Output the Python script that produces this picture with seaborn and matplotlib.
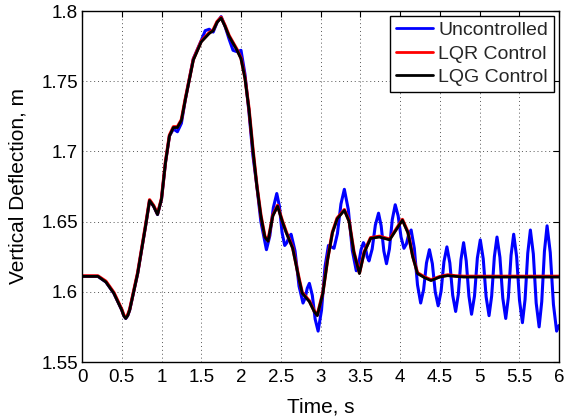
import matplotlib
matplotlib.use("Agg")
import matplotlib.pyplot as plt
import seaborn as sns
import pandas as pd

# ---------------- data ----------------
unc_t = [0.0, 0.2, 0.3, 0.4, 0.5, 0.525, 0.55, 0.575, 0.6, 0.7, 0.8, 0.85, 0.9, 0.95, 1.0,
         1.05, 1.1, 1.15, 1.2, 1.25, 1.3, 1.4, 1.5, 1.55, 1.6, 1.65, 1.7, 1.75, 1.8, 1.85,
         1.9, 1.95, 2.0, 2.05, 2.1, 2.15, 2.2, 2.25, 2.32, 2.363, 2.407, 2.45, 2.483, 2.517,
         2.55, 2.577, 2.603, 2.63, 2.68, 2.73, 2.78, 2.807, 2.833, 2.86, 2.897, 2.933, 2.97,
         3.013, 3.057, 3.10, 3.135, 3.17, 3.213, 3.257, 3.30, 3.35, 3.40, 3.45, 3.48, 3.51,
         3.54, 3.563, 3.587, 3.61, 3.65, 3.69, 3.73, 3.763, 3.797, 3.83, 3.867, 3.903, 3.94,
         3.977, 4.013, 4.05, 4.08, 4.11, 4.14, 4.18, 4.22, 4.26, 4.297, 4.333, 4.37, 4.407,
         4.443, 4.48, 4.517, 4.553, 4.59, 4.627, 4.663, 4.70, 4.733, 4.767, 4.80, 4.833,
         4.867, 4.90, 4.937, 4.973, 5.01, 5.047, 5.083, 5.12, 5.153, 5.187, 5.22, 5.257,
         5.293, 5.33, 5.363, 5.397, 5.43, 5.467, 5.503, 5.54, 5.573, 5.607, 5.64, 5.677,
         5.713, 5.75, 5.783, 5.817, 5.85, 5.89, 5.93, 5.97, 6.0]
unc_v = [1.611, 1.611, 1.607, 1.599, 1.587, 1.583, 1.581, 1.583, 1.587, 1.613, 1.647, 1.665,
         1.661, 1.655, 1.666, 1.692, 1.711, 1.716, 1.714, 1.720, 1.737, 1.766, 1.779, 1.786,
         1.787, 1.785, 1.792, 1.796, 1.789, 1.780, 1.772, 1.771, 1.772, 1.755, 1.728, 1.697,
         1.675, 1.650, 1.630, 1.640, 1.660, 1.670, 1.661, 1.642, 1.633, 1.635, 1.639, 1.641,
         1.629, 1.604, 1.592, 1.5955, 1.6025, 1.606, 1.5975, 1.5805, 1.572, 1.587, 1.618,
         1.633, 1.632, 1.631, 1.6415, 1.6625, 1.673, 1.6585, 1.6295, 1.615, 1.620, 1.630,
         1.635, 1.632, 1.625, 1.622, 1.6305, 1.6475, 1.656, 1.647, 1.629, 1.620, 1.6305,
         1.6515, 1.662, 1.654, 1.639, 1.631, 1.634, 1.641, 1.644, 1.631, 1.605, 1.592,
         1.6015, 1.6205, 1.630, 1.620, 1.600, 1.590, 1.6005, 1.6215, 1.632, 1.6205, 1.5975,
         1.586, 1.598, 1.623, 1.635, 1.622, 1.597, 1.584, 1.597, 1.624, 1.637, 1.6235,
         1.5965, 1.583, 1.597, 1.625, 1.639, 1.6245, 1.5955, 1.581, 1.596, 1.626, 1.641,
         1.625, 1.594, 1.578, 1.5945, 1.6275, 1.644, 1.627, 1.592, 1.575, 1.593, 1.629,
         1.647, 1.628, 1.591, 1.572, 1.576]

ctl_t = [0.0, 0.2, 0.3, 0.4, 0.5, 0.525, 0.55, 0.575, 0.6, 0.7, 0.8, 0.85, 0.9, 0.95, 1.0,
         1.05, 1.1, 1.15, 1.2, 1.25, 1.3, 1.4, 1.5, 1.6, 1.65, 1.7, 1.75, 1.8, 1.85, 1.9,
         1.95, 2.0, 2.05, 2.1, 2.15, 2.2, 2.25, 2.3, 2.34, 2.4, 2.46, 2.52, 2.57, 2.65, 2.73,
         2.77, 2.86, 2.92, 2.96, 3.03, 3.09, 3.15, 3.21, 3.30, 3.36, 3.42, 3.49, 3.55, 3.63,
         3.74, 3.87, 3.95, 4.03, 4.1, 4.16, 4.22, 4.31, 4.39, 4.5, 4.6, 4.7, 4.8, 5.0, 6.0]
lqr_v = [1.6113, 1.6113, 1.6075, 1.5995, 1.5875, 1.5835, 1.5815, 1.5835, 1.5875, 1.6135,
         1.6475, 1.6655, 1.6615, 1.6555, 1.6665, 1.6925, 1.7115, 1.7175, 1.7175, 1.7225,
         1.7375, 1.7655, 1.7785, 1.7845, 1.7865, 1.7925, 1.7955, 1.7895, 1.7825, 1.7775,
         1.7725, 1.7665, 1.7525, 1.7305, 1.7015, 1.6755, 1.6545, 1.6395, 1.6365, 1.6545,
         1.6615, 1.6505, 1.6425, 1.6315, 1.6095, 1.5995, 1.5935, 1.5865, 1.5835, 1.5995,
         1.6235, 1.6425, 1.6525, 1.6585, 1.6505, 1.6285, 1.6135, 1.6285, 1.6385, 1.6395,
         1.6375, 1.6445, 1.6515, 1.6425, 1.6255, 1.6135, 1.6105, 1.6085, 1.6108, 1.612,
         1.6113, 1.6110, 1.6110, 1.6110]
lqg_v = [1.611, 1.611, 1.607, 1.599, 1.587, 1.583, 1.581, 1.583, 1.587, 1.613, 1.647, 1.665,
         1.661, 1.655, 1.666, 1.692, 1.711, 1.717, 1.717, 1.722, 1.737, 1.765, 1.778, 1.784,
         1.786, 1.792, 1.795, 1.789, 1.782, 1.777, 1.772, 1.766, 1.752, 1.730, 1.701, 1.675,
         1.654, 1.639, 1.636, 1.654, 1.661, 1.650, 1.642, 1.631, 1.609, 1.599, 1.593, 1.586,
         1.583, 1.599, 1.623, 1.642, 1.652, 1.658, 1.650, 1.628, 1.613, 1.628, 1.638, 1.639,
         1.637, 1.644, 1.651, 1.642, 1.625, 1.613, 1.610, 1.608, 1.6105, 1.6115, 1.611,
         1.6105, 1.6105, 1.6105]

series_names = ["Uncontrolled", "LQR Control", "LQG Control"]
x_ticks = [0, 0.5, 1, 1.5, 2, 2.5, 3, 3.5, 4, 4.5, 5, 5.5, 6]
x_tick_labels = ["0", "0.5", "1", "1.5", "2", "2.5", "3", "3.5", "4", "4.5", "5", "5.5", "6"]
y_ticks = [1.55, 1.6, 1.65, 1.7, 1.75, 1.8]
y_tick_labels = ["1.55", "1.6", "1.65", "1.7", "1.75", "1.8"]

# ---------------- style ----------------
sns.set_theme(style="white")
plt.rcParams["font.family"] = ["Liberation Sans", "DejaVu Sans"]
plt.rcParams["xtick.direction"] = "in"
plt.rcParams["ytick.direction"] = "in"

fig = plt.figure(figsize=(5.66, 4.19), dpi=100)
ax = fig.add_axes([82 / 566, 1 - 362 / 419, (559 - 82) / 566, (362 - 11) / 419])

df_unc = pd.DataFrame({"t": unc_t, "v": unc_v})
df_lqr = pd.DataFrame({"t": ctl_t, "v": lqr_v})
df_lqg = pd.DataFrame({"t": ctl_t, "v": lqg_v})

common = dict(ax=ax, sort=False, estimator=None, solid_joinstyle="round",
              solid_capstyle="round")
sns.lineplot(data=df_unc, x="t", y="v", color="#0000ff", lw=2.2,
             label=series_names[0], **common)
sns.lineplot(data=df_lqr, x="t", y="v", color="#ff0000", lw=2.4,
             label=series_names[1], **common)
sns.lineplot(data=df_lqg, x="t", y="v", color="#000000", lw=2.0,
             label=series_names[2], **common)

ax.set_xlim(0, 6)
ax.set_ylim(1.55, 1.8)
ax.set_xticks(x_ticks)
ax.set_xticklabels(x_tick_labels)
ax.set_yticks(y_ticks)
ax.set_yticklabels(y_tick_labels)
ax.tick_params(axis="both", which="both", labelsize=13.5, length=4, width=0.8,
               top=True, right=True, color="black", labelcolor="black")
ax.tick_params(axis="x", pad=5)
ax.tick_params(axis="y", pad=3)
ax.grid(True, linestyle=(0, (1, 3)), color="#555555", linewidth=0.7)
for s in ax.spines.values():
    s.set_visible(True)
    s.set_color("black")
    s.set_linewidth(1.0)

ax.set_xlabel("Time, s", fontsize=15, color="black", labelpad=8)
ax.set_ylabel("Vertical Deflection, m", fontsize=15, color="black", labelpad=10)

leg = ax.legend(loc="upper right", fontsize=14, frameon=True, fancybox=False,
                edgecolor="black", framealpha=1, handlelength=1.9, handletextpad=0.3,
                borderpad=0.3, labelspacing=0.3, borderaxespad=0.25)
leg.get_frame().set_linewidth(1.0)
for h in leg.get_lines():
    h.set_linewidth(2.0)

fig.savefig("out.png", dpi=100)
